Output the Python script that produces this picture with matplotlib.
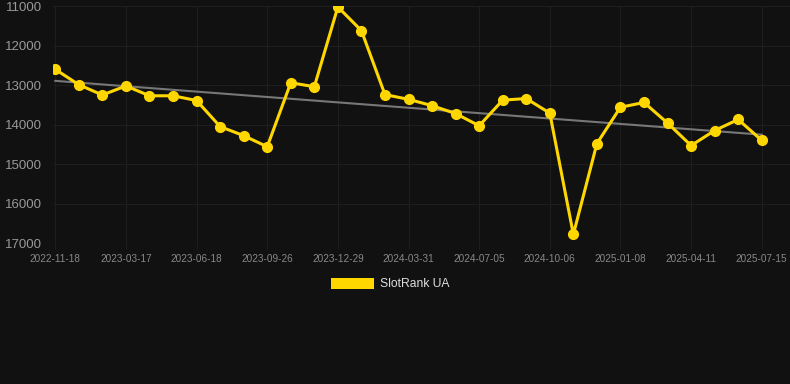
import numpy as np
import matplotlib
matplotlib.use("Agg")
from matplotlib import pyplot as plt
from matplotlib.patches import Patch

plt.rcParams['font.family'] = ['Liberation Sans', 'DejaVu Sans']

# rank values, one point per period (31 points)
ranks = [12600, 12990, 13250, 13020, 13270, 13270, 13390, 14050, 14280, 14560,
         12940, 13040, 11020, 11620, 13240, 13360, 13520, 13720, 14030, 13380,
         13340, 13710, 16780, 14480, 13560, 13440, 13960, 14530, 14150, 13870,
         14400]
tick_labels = ['2022-11-18', '2023-03-17', '2023-06-18', '2023-09-26', '2023-12-29',
               '2024-03-31', '2024-07-05', '2024-10-06', '2025-01-08', '2025-04-11',
               '2025-07-15']
y_ticks = [11000, 12000, 13000, 14000, 15000, 16000, 17000]
series_name = 'SlotRank UA'

bg = '#111111'
gold = '#FFD700'

x = np.arange(len(ranks))
slope, intercept = np.polyfit(x, ranks, 1)

fig = plt.figure(figsize=(7.9, 3.84), dpi=100, facecolor=bg)
ax = fig.add_axes([0.067, 0.367, 0.933, 0.617], facecolor=bg)

ax.plot(x, slope * x + intercept, color='#777777', lw=1.5, zorder=2)
ax.plot(x, ranks, color=gold, lw=2.2, marker='o', ms=7, zorder=3)

ax.set_xlim(-0.1, 31.2)
ax.set_ylim(17000, 11000)
ax.set_yticks(y_ticks)
ax.set_xticks(x[::3])
ax.set_xticklabels(tick_labels)

ax.grid(True, color='#1e1e1e', lw=0.8)
for s in ax.spines.values():
    s.set_visible(False)
ax.tick_params(axis='y', length=0, colors='#999999', labelsize=9.5, pad=8)
ax.tick_params(axis='x', length=4, color='#1e1e1e', colors='#888888', labelsize=7.2, pad=4)

leg = fig.legend(handles=[Patch(facecolor=gold, label=series_name)],
                 loc='center', bbox_to_anchor=(0.494, 0.26), frameon=False,
                 handlelength=3.5, handleheight=1.0, handletextpad=0.5,
                 fontsize=8.7, labelcolor='#dddddd')

fig.savefig('out.png', dpi=100, facecolor=bg)
